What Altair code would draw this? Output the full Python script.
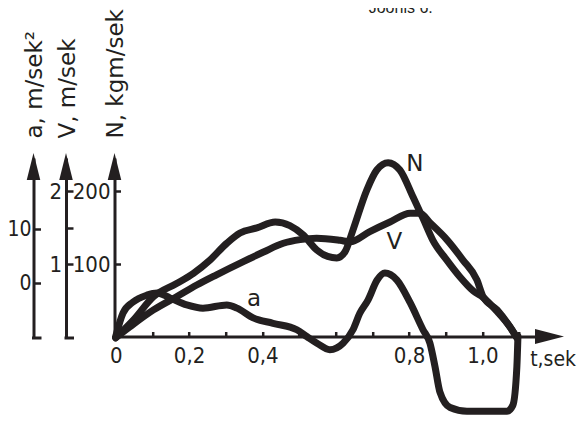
import altair as alt
import pandas as pd

# ---- data ----
t_N = [0, .048, .103, .166, .212, .257, .303, .339, .385, .435, .475, .512, .548, .578, .603, .625,
       .647, .685, .712, .743, .775, .811, .838, .865, .903, .939, .975, 1.002, 1.040, 1.075, 1.094]
N_vals = [0, 24, 56, 74, 88, 106, 129, 143, 150, 158, 153, 140, 120, 111, 109, 117,
          147, 202, 229, 239, 229, 192, 163, 133, 106, 83, 64, 55, 36, 15, 0]

t_V = [0, .039, .103, .166, .221, .275, .348, .403, .457, .503, .548, .612, .639, .693, .748,
       .803, .830, .857, .903, .947, .985, 1.002, 1.040, 1.075, 1.094]
V_vals = [0, .15, .38, .56, .72, .86, 1.04, 1.17, 1.29, 1.34, 1.36, 1.33, 1.31, 1.45, 1.58,
          1.70, 1.70, 1.57, 1.34, 1.06, .79, .56, .38, .15, 0]

t_a = [0, .020, .047, .085, .113, .148, .194, .238, .303, .331, .375, .429, .494, .522, .549,
       .584, .620, .647, .666, .688, .713, .734, .767, .803, .838, .857, .871, .884, .912, .958,
       1.067, 1.083, 1.094, 1.097]
a_vals = [-9.85, -5.5, -3.5, -2.2, -1.8, -2.7, -4.0, -4.6, -4.0, -4.6, -6.4, -7.4, -8.6, -9.9, -11.1,
          -12.3, -11.1, -8.6, -5.5, -3.1, 0.6, 1.9, 0.6, -3.6, -8.6, -11.1, -15.5, -20.1, -23.0, -23.7,
          -23.7, -22.6, -15.5, -9.8]

x_ticks = [0, 0.1, 0.2, 0.3, 0.4, 0.5, 0.6, 0.7, 0.8, 0.9, 1.0, 1.1]
N_ticks = [100, 200]
V_ticks = [1, 1.5, 2]
a_ticks = [0, 10]

lab_txt = ["N", "V", "a"]
lab_t = [0.816, 0.760, 0.377]
lab_v = [227.6, 1.21, -4.2]

INK = "#231f20"
W = 424
H = 178.5
X_DOM = [0, 1.1563]
N_DOM = [1.7, 245.4]
V_DOM = [0.017, 2.454]
A_DOM = [-9.85, 23.2]
LFONT = "DejaVu Sans Condensed"
TFONT = "DejaVu Sans"

x_axis = alt.Axis(
    orient="top", offset=-H, values=x_ticks, grid=False,
    tickSize=5, tickWidth=2.5, tickColor=INK,
    domainWidth=3, domainColor=INK,
    labelExpr="(abs(datum.value-0.6)<0.01 || round(datum.value*10)%2==1) ? '' : (datum.value==0 ? '0' : replace(format(datum.value,'.1f'),'.',','))",
    labelBaseline="top", labelPadding=-13.8, labelFont=LFONT, labelFontSize=22,
    labelColor=INK, labelFlush=False, labelOverlap=False,
    title="t,sek", titleX=414, titleY=28.5, titleAlign="left", titleBaseline="alphabetic",
    titleAngle=0, titleFont=LFONT, titleFontSize=21, titleFontWeight="normal", titleColor=INK,
)
x_enc = alt.X("t:Q", scale=alt.Scale(domain=X_DOM, nice=False, zero=False), axis=x_axis)


def yaxis(pos, values, tsize, title, tx, expr, gap=4.5, fsize=22):
    return alt.Axis(
        orient="right", offset=pos - W, values=values, grid=False,
        tickSize=tsize, tickWidth=2.5, tickColor=INK,
        domainWidth=3, domainColor=INK,
        labelAlign="right", labelBaseline="middle", labelPadding=-(tsize + gap),
        labelFont=LFONT, labelFontSize=fsize, labelColor=INK, labelFlush=False, labelOverlap=False,
        labelExpr=expr,
        title=title, titleAngle=270, titleAlign="left", titleBaseline="alphabetic",
        titleX=tx, titleY=-20, titleFont=TFONT, titleFontSize=23, titleFontWeight="normal",
        titleColor=INK,
    )


dfN = pd.DataFrame({"t": t_N, "N": N_vals})
dfV = pd.DataFrame({"t": t_V, "V": V_vals})
dfA = pd.DataFrame({"t": t_a, "a": a_vals})

line_kw = dict(color=INK, strokeWidth=7, interpolate="monotone", strokeCap="round", strokeJoin="round")

lineN = alt.Chart(dfN).mark_line(**line_kw).encode(
    x=x_enc,
    y=alt.Y("N:Q", scale=alt.Scale(domain=N_DOM, nice=False, zero=False),
            axis=yaxis(-1.2, N_ticks, 6, "N, kgm/sek", 7.5, "format(datum.value,'d')")),
)
lineV = alt.Chart(dfV).mark_line(**line_kw).encode(
    x=x_enc,
    y=alt.Y("V:Q", scale=alt.Scale(domain=V_DOM, nice=False, zero=False),
            axis=yaxis(-49.7, V_ticks, 7, "V, m/sek", 8,
                       "datum.value==1.5 ? '' : format(datum.value,'d')")),
)
lineA = alt.Chart(dfA).mark_line(**line_kw).encode(
    x=x_enc,
    y=alt.Y("a:Q", scale=alt.Scale(domain=A_DOM, nice=False, zero=False),
            axis=yaxis(-82.2, a_ticks, 7, "a, m/sek²", 8, "format(datum.value,'d')",
                       gap=2.5, fsize=21)),
)

txt_kw = dict(color=INK, font=TFONT, fontSize=23, align="center", baseline="alphabetic")
doms = [N_DOM, V_DOM, A_DOM]
fields = ["N", "V", "a"]
texts = []
for i in range(3):
    d = pd.DataFrame({"t": [lab_t[i]], fields[i]: [lab_v[i]], "txt": [lab_txt[i]]})
    texts.append(
        alt.Chart(d).mark_text(**txt_kw).encode(
            x=x_enc,
            y=alt.Y(f"{fields[i]}:Q", scale=alt.Scale(domain=doms[i], nice=False, zero=False), axis=None),
            text="txt:N",
        )
    )

one = pd.DataFrame({"k": [0]})
up_arrow = "M0,-1L0.5,1L-0.5,1Z"
right_arrow = "M1,0L-1,-0.52L-1,0.52Z"
arrows = []
for xp in [-1.2, -49.7, -82.2]:
    arrows.append(alt.Chart(one).mark_point(shape=up_arrow, filled=True, size=729, color=INK,
                                            opacity=1, strokeWidth=0).encode(
        x=alt.value(xp), y=alt.value(8.5)))
arrows.append(alt.Chart(one).mark_point(shape=right_arrow, filled=True, size=841, color=INK,
                                        opacity=1, strokeWidth=0).encode(
    x=alt.value(433.8), y=alt.value(H)))

feet = []
for xp in [-82.2, -49.7]:
    feet.append(alt.Chart(one).mark_rule(color=INK, strokeWidth=3).encode(
        x=alt.value(xp - 1.5), x2=alt.value(xp + 8), y=alt.value(H + 1.5)))

title = alt.Chart(one).mark_text(text="Joonis 6.", font="Liberation Sans", fontSize=16,
                                 color=INK, align="center", baseline="alphabetic").encode(
    x=alt.value(285), y=alt.value(-145))

chart = alt.layer(lineN, lineV, lineA, *texts, *arrows, *feet, title).resolve_scale(
    y="independent"
).properties(
    width=W, height=H,
    autosize=alt.AutoSizeParams(type="none"),
    padding={"left": 107.7, "top": 150, "right": 38.3, "bottom": 78.5},
    background="white",
).configure_view(stroke=None)

chart.save("out.html", embed_options={"renderer": "svg", "actions": False})
